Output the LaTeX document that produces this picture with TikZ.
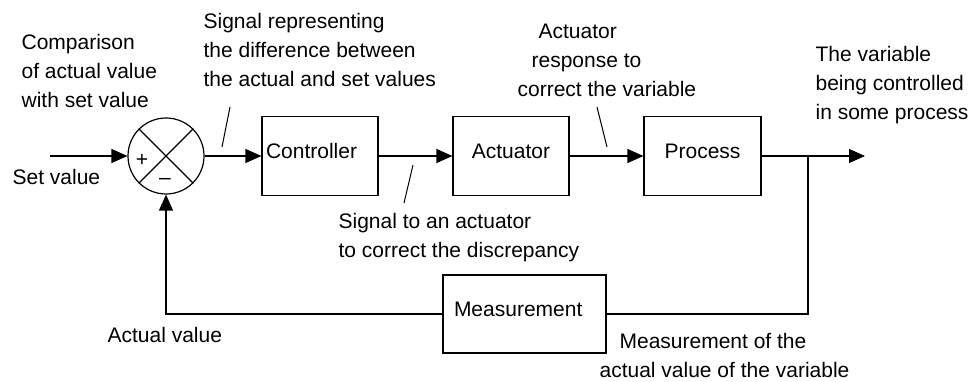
\documentclass[tikz,border=0pt]{standalone}
\usepackage{fontspec}
\setmainfont{Liberation Sans}
\usetikzlibrary{arrows.meta}
\newcommand\lblfont{\fontsize{21}{29}\selectfont}
\begin{document}
\begin{tikzpicture}[x=1pt,y=-1pt, line width=1.2pt,
  lbl/.style={font=\lblfont, align=left, inner sep=0pt, anchor=base west},
  blk/.style={draw, font=\lblfont, minimum height=79pt, text height=15pt, text depth=10pt},
  arr/.style={-{Triangle[length=16pt,width=14pt]}},
  lead/.style={line width=1pt}]
\useasboundingbox (0,0) rectangle (974,382);

% summing junction
\node[draw, circle, minimum size=76pt, inner sep=0pt] (sum) at (166,156) {};
\draw (sum.north west) -- (sum.south east);
\draw (sum.north east) -- (sum.south west);
\node[font=\lblfont, inner sep=0pt] (plus) at (142,160) {+};
\node[font=\lblfont, inner sep=0pt] (minus) at (165,181) {–};

% blocks
\node[blk, text width=108pt, align=left, inner xsep=4pt] (ctrl) at (320,156) {Controller};
\node[blk, minimum width=116pt] (act) at (511,156) {Actuator};
\node[blk, minimum width=117pt] (proc) at (702.5,156) {Process};
\node[blk, text width=141pt, align=left, inner xsep=11pt, minimum height=78pt] (meas) at (524.5,314) {Measurement};

% free ends
\coordinate (in) at (50,156);
\coordinate (out) at (865,156);
\coordinate (tap) at (808,156);

% connectors
\draw[arr] (in) -- (sum.west);
\draw[arr] (sum.east) -- (ctrl.west);
\draw[arr] (ctrl.east) -- (act.west);
\draw[arr] (act.east) -- (proc.west);
\draw[arr] (proc.east) -- (out);
\draw (tap) -- (tap |- meas.east) -- (meas.east);
\draw[arr] (meas.west) -- (sum.south |- meas.west) -- (sum.south);

% leader lines
\coordinate (l1a) at (230,107); \coordinate (l1b) at (222,147);
\coordinate (l2a) at (413,165); \coordinate (l2b) at (404,203);
\coordinate (l3a) at (597,107); \coordinate (l3b) at (607,147);
\draw[lead] (l1a) -- (l1b);
\draw[lead] (l2a) -- (l2b);
\draw[lead] (l3a) -- (l3b);

% labels (anchored at the baseline of their last line)
\node[lbl] (cmp) at (21,108) {Comparison\\of actual value\\with set value};
\node[lbl] (sigdiff) at (203,87) {Signal representing\\the difference between\\the actual and set values};
\node[lbl] (actresp) at (517,97) {\hspace*{21pt}Actuator\\\hspace*{14pt}response to\\correct the variable};
\node[lbl] (sigact) at (338,257) {Signal to an actuator\\to correct the discrepancy};
\node[lbl] (var) at (815,120) {The variable\\being controlled\\in some process};
\node[lbl] (setv) at (12,185) {Set value};
\node[lbl] (actv) at (107,342) {Actual value};
\node[lbl] (measv) at (599,377) {\hspace*{20pt}Measurement of the\\actual value of the variable};
\end{tikzpicture}
\end{document}
